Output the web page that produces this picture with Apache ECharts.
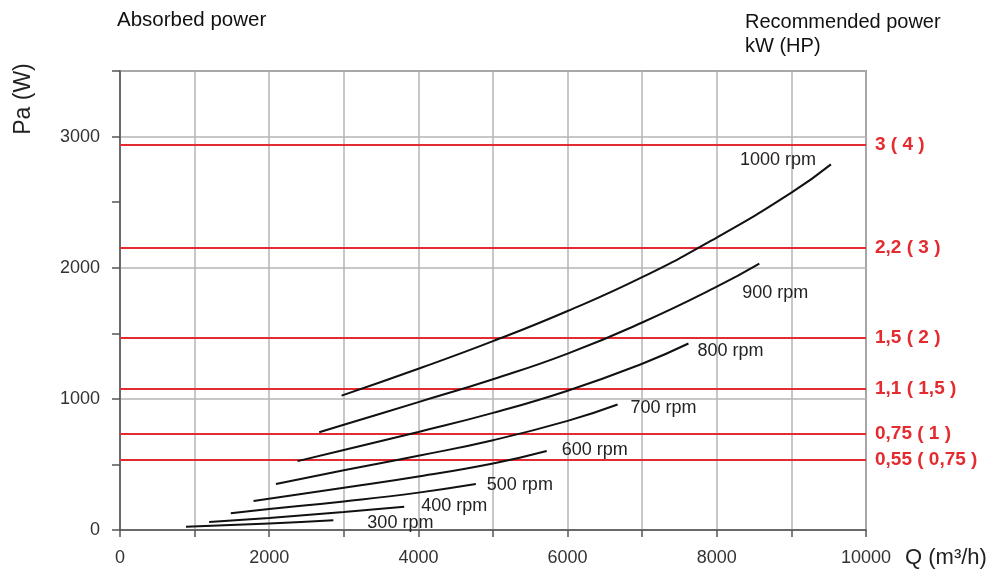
<!DOCTYPE html>
<html>
<head>
<meta charset="utf-8">
<script src="https://cdn.jsdelivr.net/npm/echarts@6/dist/echarts.min.js"></script>
<style>
html,body{margin:0;padding:0;background:#fff;}
#chart{width:999px;height:572px;}
</style>
</head>
<body>
<div id="chart"></div>
<script>
// ---- data ----
const curveNames = ['1000 rpm', '900 rpm', '800 rpm', '700 rpm', '600 rpm', '500 rpm', '400 rpm', '300 rpm'];
const rpm1000 = [[2970, 1025], [4000, 1230], [5000, 1440], [6000, 1670], [7000, 1928], [8000, 2230], [9000, 2572], [9530, 2788]];
const rpm900  = [[2670, 745], [3000, 802], [4000, 975], [5000, 1150], [6000, 1345], [7000, 1582], [8000, 1855], [8570, 2031]];
const rpm800  = [[2380, 525], [3000, 610], [4000, 748], [5000, 893], [6000, 1062], [7000, 1268], [7620, 1422]];
const rpm700  = [[2090, 350], [3000, 455], [4000, 566], [5000, 685], [6000, 832], [6670, 957]];
const rpm600  = [[1790, 221], [3000, 322], [4000, 408], [5000, 507], [5720, 602]];
const rpm500  = [[1485, 127], [2000, 160], [3000, 218], [4000, 285], [4770, 350]];
const rpm400  = [[1195, 61], [2000, 92], [3000, 137], [3810, 177]];
const rpm300  = [[885, 25], [2000, 49], [2860, 74]];
const powerLevels = [2937, 2152, 1465, 1074, 731, 538];
const powerLabels = ['3 ( 4 )', '2,2 ( 3 )', '1,5 ( 2 )', '1,1 ( 1,5 )', '0,75 ( 1 )', '0,55 ( 0,75 )'];
const xTicks = [0, 2000, 4000, 6000, 8000, 10000];
const yTicks = [0, 1000, 2000, 3000];

// ---- layout / style ----
const curves = [rpm1000, rpm900, rpm800, rpm700, rpm600, rpm500, rpm400, rpm300];
const labelOffsets = [[-91, -4], [-17, 29], [9, 8], [13, 4], [15, -1], [11, 1], [17, -1], [34, 3]];
const FONT = '"Liberation Sans", Arial, Helvetica, sans-serif';
const RED = '#e42b2f';

const chart = echarts.init(document.getElementById('chart'), null, {renderer: 'canvas'});

const series = curves.map((d, i) => ({
  name: curveNames[i],
  type: 'line',
  data: d,
  smooth: 0.5,
  showSymbol: false,
  symbol: 'none',
  silent: true,
  z: 5,
  lineStyle: {color: '#111', width: 2},
  endLabel: {
    show: true,
    formatter: curveNames[i],
    distance: 0,
    offset: labelOffsets[i],
    color: '#222',
    fontFamily: FONT,
    fontSize: 18
  }
}));

series.push({
  name: 'power',
  type: 'line',
  data: [],
  z: 2,
  silent: true,
  markLine: {
    silent: true,
    symbol: 'none',
    animation: false,
    lineStyle: {color: RED, width: 2, type: 'solid'},
    label: {
      show: true,
      position: 'end',
      distance: 9,
      color: RED,
      fontWeight: 'bold',
      fontFamily: FONT,
      fontSize: 19,
      formatter: p => powerLabels[p.dataIndex]
    },
    data: powerLevels.map(v => ({yAxis: v}))
  }
});

chart.setOption({
  animation: false,
  backgroundColor: '#fff',
  textStyle: {fontFamily: FONT},
  title: [
    {text: 'Absorbed power', left: 117, top: 10, padding: 0,
     textStyle: {fontSize: 20.5, fontWeight: 'normal', color: '#111', fontFamily: FONT}},
    {text: 'Recommended power\nkW (HP)', left: 745, top: 10, padding: 0,
     textStyle: {fontSize: 20, fontWeight: 'normal', color: '#111', lineHeight: 24, fontFamily: FONT}}
  ],
  grid: {left: 120, right: 133, top: 71, bottom: 42, show: true, borderColor: '#555', borderWidth: 1.5, backgroundColor: 'transparent'},
  xAxis: {
    type: 'value', min: 0, max: 10000, interval: 1000,
    axisLine: {show: true, lineStyle: {color: '#555', width: 1.5}},
    axisTick: {show: true, inside: false, length: 7, lineStyle: {color: '#555', width: 1.5}},
    axisLabel: {
      margin: 19, fontSize: 18, color: '#333', fontFamily: FONT,
      formatter: v => (xTicks.indexOf(v) >= 0 ? String(v) : '')
    },
    splitLine: {show: true, lineStyle: {color: '#b5b5b5', width: 1.5}}
  },
  yAxis: [
    {
      type: 'value', min: 0, max: 3500, interval: 500,
      axisLine: {show: true, lineStyle: {color: '#555', width: 1.5}},
      axisTick: {show: true, length: 8, lineStyle: {color: '#555', width: 1.5}},
      axisLabel: {
        margin: 20, fontSize: 18, color: '#333', fontFamily: FONT,
        formatter: v => (yTicks.indexOf(v) >= 0 ? String(v) : '')
      },
      splitLine: {show: false}
    },
    {
      type: 'value', min: 0, max: 3500, interval: 1000, position: 'left',
      axisLine: {show: false}, axisTick: {show: false}, axisLabel: {show: false},
      splitLine: {show: true, lineStyle: {color: '#b5b5b5', width: 1.5}}
    }
  ],
  graphic: [
    {type: 'text', x: 24, y: 99, rotation: Math.PI / 2,
     style: {text: 'Pa (W)', fontSize: 23, fontFamily: FONT, fill: '#222', align: 'center', verticalAlign: 'middle'}},
    {type: 'text', x: 905, y: 558,
     style: {text: 'Q (m³/h)', fontSize: 22, fontFamily: FONT, fill: '#222', align: 'left', verticalAlign: 'middle'}}
  ],
  series: series
});
</script>
</body>
</html>
